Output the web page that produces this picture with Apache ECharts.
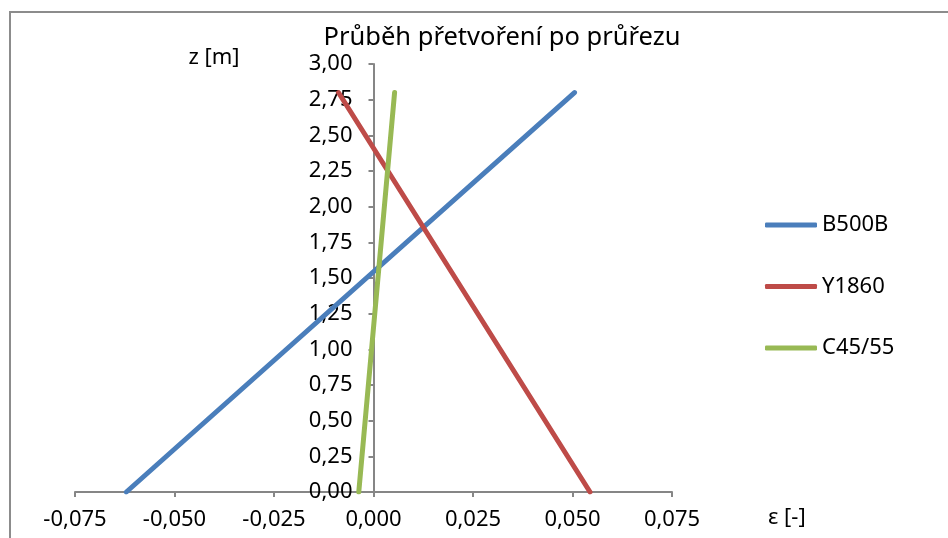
<!DOCTYPE html>
<html>
<head>
<meta charset="utf-8">
<script src="https://cdn.jsdelivr.net/npm/echarts@6/dist/echarts.min.js"></script>
<style>
  html, body { margin: 0; padding: 0; background: #fff; }
  #chart { width: 948px; height: 538px; }
</style>
</head>
<body>
<div id="chart"></div>
<script>
// Strain profile over the cross-section: strain ε [-] versus height z [m]
const seriesNames = ['B500B', 'Y1860', 'C45/55'];
const seriesColors = ['#4A7EBB', '#BE4B48', '#98B954'];

const b500bStrain = [-0.0621, 0.0505];
const b500bHeight = [0.0, 2.8];

const y1860Strain = [0.0544, -0.0088];
const y1860Height = [0.0, 2.8];

const c4555Strain = [-0.0037, 0.0053];
const c4555Height = [0.0, 2.8];

const xMin = -0.075, xMax = 0.075, xStep = 0.025;
const yMin = 0, yMax = 3, yStep = 0.25;

const FONT = 'Noto Sans';
const AXIS_GREY = '#868686';

function pairs(xs, ys) {
  return xs.map((x, i) => [x, ys[i]]);
}
const seriesData = [
  pairs(b500bStrain, b500bHeight),
  pairs(y1860Strain, y1860Height),
  pairs(c4555Strain, c4555Height)
];

const chart = echarts.init(document.getElementById('chart'), null, { renderer: 'canvas' });

chart.setOption({
  animation: false,
  backgroundColor: '#fff',
  textStyle: { fontFamily: FONT },
  title: {
    text: 'Průběh přetvoření po průřezu',
    left: 497,
    top: 20,
    textAlign: 'center',
    textStyle: { fontFamily: FONT, fontSize: 25.5, fontWeight: 'normal', color: '#000' }
  },
  graphic: [{
    type: 'rect',
    shape: { x: 10, y: 12, width: 1000, height: 600 },
    style: { fill: 'none', stroke: '#8c8c8c', lineWidth: 2 },
    silent: true,
    z: -1
  }],
  legend: {
    orient: 'vertical',
    left: 765,
    top: 214,
    padding: 0,
    itemWidth: 52,
    itemHeight: 5,
    itemGap: 39.5,
    icon: 'roundRect',
    textStyle: { fontFamily: FONT, fontSize: 22, lineHeight: 22, color: '#000' },
    data: seriesNames
  },
  grid: { left: 75, right: 276, top: 64, bottom: 46, containLabel: false, outerBoundsMode: 'none' },
  xAxis: {
    type: 'value',
    min: xMin,
    max: xMax,
    interval: xStep,
    name: 'ε [-]',
    nameLocation: 'end',
    nameGap: 0,
    nameTextStyle: {
      fontFamily: FONT, fontSize: 22, color: '#000',
      align: 'left', verticalAlign: 'top',
      padding: [15, 0, 0, 96]
    },
    axisLine: { show: true, lineStyle: { color: AXIS_GREY, width: 2 } },
    axisTick: { show: true, inside: false, length: 5, lineStyle: { color: AXIS_GREY, width: 2 } },
    axisLabel: {
      margin: 17,
      fontFamily: FONT, fontSize: 22, color: '#000',
      formatter: v => v.toFixed(3).replace('.', ',')
    },
    splitLine: { show: false }
  },
  yAxis: {
    type: 'value',
    min: yMin,
    max: yMax,
    interval: yStep,
    name: 'z [m]',
    nameLocation: 'end',
    nameGap: 6,
    nameTextStyle: {
      fontFamily: FONT, fontSize: 22, color: '#000',
      align: 'right', verticalAlign: 'middle',
      padding: [0, 134, 0, 0]
    },
    axisLine: { show: true, onZero: false, lineStyle: { color: AXIS_GREY, width: 2 } },
    axisTick: { show: true, inside: false, length: 5, lineStyle: { color: AXIS_GREY, width: 2 } },
    axisLabel: {
      margin: 21,
      fontFamily: FONT, fontSize: 22, color: '#000',
      formatter: v => v.toFixed(2).replace('.', ',')
    },
    splitLine: { show: false }
  },
  series: seriesNames.map((name, i) => ({
    name: name,
    type: 'line',
    data: seriesData[i],
    showSymbol: false,
    symbol: 'none',
    color: seriesColors[i],
    lineStyle: { color: seriesColors[i], width: 5, cap: 'round' },
    itemStyle: { color: seriesColors[i] }
  }))
});

// Move the vertical axis (line, ticks, labels) onto ε = 0
const zeroPx = chart.convertToPixel({ xAxisIndex: 0 }, 0);
const leftPx = chart.convertToPixel({ xAxisIndex: 0 }, xMin);
chart.setOption({ yAxis: { offset: -(zeroPx - leftPx) } });
</script>
</body>
</html>
